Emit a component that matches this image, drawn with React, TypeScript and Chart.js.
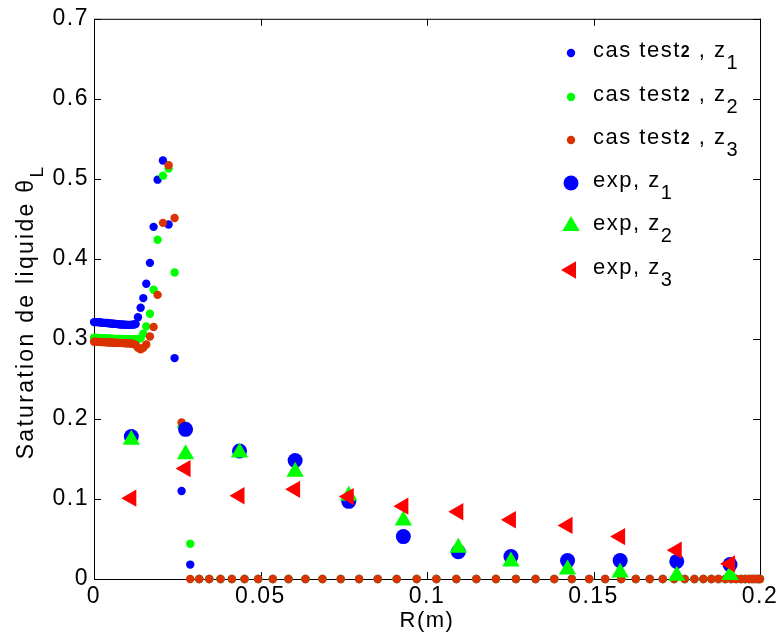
import React, { useEffect, useRef } from 'react';
import { Chart, registerables } from 'chart.js';

Chart.register(...registerables);

const FONT = '"Liberation Sans", Arial, Helvetica, sans-serif';

// ---------- data ----------
const simR = [
  0, 0.0005, 0.001, 0.0015, 0.002, 0.0025, 0.003, 0.0035, 0.004, 0.0045, 0.005, 0.0055, 0.006,
  0.0065, 0.007, 0.0075, 0.008, 0.0085, 0.009, 0.0095, 0.01, 0.0105, 0.011, 0.0115, 0.012, 0.0125,
  0.0132, 0.014, 0.0148, 0.0157, 0.0168, 0.0179, 0.0191, 0.0207, 0.0224, 0.0242, 0.0263, 0.0289,
  0.0316, 0.0346, 0.038, 0.0414, 0.0452, 0.0493, 0.0537, 0.0584, 0.0635, 0.0686, 0.0741, 0.0796,
  0.0852, 0.0909, 0.0969, 0.1028, 0.1088, 0.1148, 0.1207, 0.1267, 0.1326, 0.1382, 0.1435, 0.1487,
  0.1535, 0.1583, 0.1627, 0.1669, 0.1708, 0.1742, 0.1774, 0.1803, 0.183, 0.1854, 0.1875, 0.1896,
  0.1914, 0.1928, 0.1943, 0.1955, 0.1967, 0.1976, 0.1985, 0.1994, 0.2,
];

const simZ1 = [
  0.321, 0.321, 0.321, 0.3208, 0.3205, 0.3203, 0.32, 0.32, 0.3198, 0.3195, 0.3193, 0.319, 0.319,
  0.3188, 0.3185, 0.3183, 0.318, 0.318, 0.3178, 0.3178, 0.3176, 0.3176, 0.3176, 0.3178, 0.318, 0.3185,
  0.327, 0.339, 0.351, 0.369, 0.395, 0.44, 0.499, 0.523, 0.443, 0.276, 0.11, 0.018,
  0, 0, 0, 0, 0, 0, 0, 0, 0, 0, 0, 0,
  0, 0, 0, 0, 0, 0, 0, 0, 0, 0, 0, 0,
  0, 0, 0, 0, 0, 0, 0, 0, 0, 0, 0, 0,
  0, 0, 0, 0, 0, 0, 0, 0, 0,
];

const simZ2 = [
  0.3015, 0.3015, 0.3013, 0.3013, 0.301, 0.301, 0.3008, 0.3008, 0.3005, 0.3005, 0.3003, 0.3003, 0.3,
  0.3, 0.3, 0.2998, 0.2998, 0.2998, 0.2995, 0.2995, 0.2995, 0.2995, 0.2995, 0.2995, 0.2995, 0.2993,
  0.2995, 0.301, 0.3066, 0.3157, 0.3315, 0.3615, 0.424, 0.504, 0.513, 0.383, 0.19, 0.044,
  0, 0, 0, 0, 0, 0, 0, 0, 0, 0, 0, 0,
  0, 0, 0, 0, 0, 0, 0, 0, 0, 0, 0, 0,
  0, 0, 0, 0, 0, 0, 0, 0, 0, 0, 0, 0,
  0, 0, 0, 0, 0, 0, 0, 0, 0,
];

const simZ3 = [
  0.2965, 0.2965, 0.2963, 0.2963, 0.296, 0.296, 0.296, 0.2958, 0.2958, 0.2955, 0.2955, 0.2955, 0.2953,
  0.2953, 0.295, 0.295, 0.295, 0.2948, 0.2948, 0.2945, 0.2945, 0.2945, 0.2943, 0.294, 0.2935, 0.2925,
  0.289, 0.287, 0.289, 0.293, 0.303, 0.315, 0.355, 0.445, 0.517, 0.451, 0.1955, 0,
  0, 0, 0, 0, 0, 0, 0, 0, 0, 0, 0, 0,
  0, 0, 0, 0, 0, 0, 0, 0, 0, 0, 0, 0,
  0, 0, 0, 0, 0, 0, 0, 0, 0, 0, 0, 0,
  0, 0, 0, 0, 0, 0, 0, 0, 0,
];

const expR = [0.0112, 0.0275, 0.0437, 0.0604, 0.0765, 0.0929, 0.1094, 0.1252, 0.1422, 0.158, 0.175, 0.191];
const expZ1 = [0.178, 0.187, 0.16, 0.148, 0.097, 0.053, 0.034, 0.028, 0.023, 0.023, 0.022, 0.018];
const expZ2 = [0.174, 0.156, 0.158, 0.134, 0.104, 0.073, 0.039, 0.022, 0.012, 0.008, 0.004, 0.005];
const expZ3 = [0.101, 0.138, 0.104, 0.112, 0.103, 0.091, 0.084, 0.074, 0.067, 0.053, 0.036, 0.019];

const xTickValues = [0, 0.05, 0.1, 0.15, 0.2];
const xTickLabels = ['0', '0.05', '0.1', '0.15', '0.2'];
const yTickValues = [0, 0.1, 0.2, 0.3, 0.4, 0.5, 0.6, 0.7];
const yTickLabels = ['0', '0.1', '0.2', '0.3', '0.4', '0.5', '0.6', '0.7'];

const xTitle = 'R(m)';
const yTitle = 'Saturation de liquide θ_L';

// markup: [..] = small bold part, _x = subscript
const seriesLabels = [
  'cas test[2] , z_1',
  'cas test[2] , z_2',
  'cas test[2] , z_3',
  'exp, z_1',
  'exp, z_2',
  'exp, z_3',
];

const BLUE = 'rgb(0,0,255)';
const GREEN = 'rgb(0,255,0)';
const ORANGE = 'rgb(218,50,0)';
const RED = 'rgb(255,0,0)';

const pts = (xs: number[], ys: number[]) => xs.map((x, i) => ({ x, y: ys[i] }));

// ---------- drawing helpers ----------
function drawMarker(ctx: CanvasRenderingContext2D, style: string, r: number, rot: number, x: number, y: number, color: string) {
  ctx.save();
  ctx.fillStyle = color;
  ctx.beginPath();
  if (style === 'triangle') {
    let rad = (rot * Math.PI) / 180;
    ctx.moveTo(x + Math.sin(rad) * r, y - Math.cos(rad) * r);
    rad += (2 * Math.PI) / 3;
    ctx.lineTo(x + Math.sin(rad) * r, y - Math.cos(rad) * r);
    rad += (2 * Math.PI) / 3;
    ctx.lineTo(x + Math.sin(rad) * r, y - Math.cos(rad) * r);
    ctx.closePath();
  } else {
    ctx.arc(x, y, r, 0, Math.PI * 2);
  }
  ctx.fill();
  ctx.restore();
}

function drawRich(ctx: CanvasRenderingContext2D, text: string, x: number, y: number) {
  const re = /\[([^\]]*)\]|_(.)|([^\[_]+)/g;
  let m: RegExpExecArray | null;
  let cx = x;
  while ((m = re.exec(text))) {
    if (m[1] !== undefined) {
      ctx.font = `bold 16px ${FONT}`;
      ctx.fillText(m[1], cx, y);
      cx += ctx.measureText(m[1]).width;
    } else if (m[2] !== undefined) {
      ctx.font = `20px ${FONT}`;
      ctx.fillText(m[2], cx, y + 12);
      cx += ctx.measureText(m[2]).width;
    } else {
      ctx.font = `22px ${FONT}`;
      ctx.fillText(m[3], cx, y);
      cx += ctx.measureText(m[3]).width;
    }
  }
}

const matlabPlugin = {
  id: 'matlabFrame',
  beforeDraw(chart: any) {
    (chart.ctx as any).letterSpacing = '1.5px';
  },
  beforeDatasetsDraw(chart: any) {
    const { ctx, chartArea: a, scales } = chart;
    ctx.save();
    ctx.strokeStyle = '#000';
    ctx.lineWidth = 1;
    ctx.strokeRect(a.left + 0.5, a.top + 0.5, a.right - a.left, a.bottom - a.top);
    const tl = 7;
    ctx.beginPath();
    xTickValues.forEach((v) => {
      const px = Math.round(scales.x.getPixelForValue(v)) + 0.5;
      ctx.moveTo(px, a.bottom);
      ctx.lineTo(px, a.bottom - tl);
      ctx.moveTo(px, a.top);
      ctx.lineTo(px, a.top + tl);
    });
    yTickValues.forEach((v) => {
      const py = Math.round(scales.y.getPixelForValue(v)) + 0.5;
      ctx.moveTo(a.left, py);
      ctx.lineTo(a.left + tl, py);
      ctx.moveTo(a.right, py);
      ctx.lineTo(a.right - tl, py);
    });
    ctx.stroke();
    ctx.restore();
  },
  afterDraw(chart: any) {
    const { ctx } = chart;
    ctx.save();
    (ctx as any).letterSpacing = '1.5px';
    ctx.fillStyle = '#000';
    ctx.textBaseline = 'alphabetic';
    ctx.textAlign = 'left';
    // legend
    const rowY = [53, 97, 140, 183, 226, 270];
    chart.data.datasets.forEach((ds: any, i: number) => {
      const y = rowY[i];
      drawMarker(ctx, ds.pointStyle, ds.pointRadius, ds.pointRotation || 0, 571, y, ds.backgroundColor);
      ctx.fillStyle = '#000';
      drawRich(ctx, seriesLabels[i], 593, y + 4);
    });
    // y axis title (rotated)
    (ctx as any).letterSpacing = '2.3px';
    const [main, sub] = yTitle.split('_');
    ctx.font = `23px ${FONT}`;
    const wMain = ctx.measureText(main).width;
    ctx.font = `19px ${FONT}`;
    const wSub = ctx.measureText(sub).width;
    const total = wMain + wSub;
    ctx.translate(33, 312 + total / 2);
    ctx.rotate(-Math.PI / 2);
    ctx.font = `23px ${FONT}`;
    ctx.fillText(main, 0, 0);
    ctx.font = `19px ${FONT}`;
    ctx.fillText(sub, wMain, 10);
    ctx.restore();
    (ctx as any).letterSpacing = '0px';
  },
};

export default function App() {
  const ref = useRef<HTMLCanvasElement>(null);
  useEffect(() => {
    if (!ref.current) return;
    const mk = (label: string, xs: number[], ys: number[], color: string, style: string, r: number, order: number, rot = 0) => ({
      label,
      data: pts(xs, ys),
      backgroundColor: color,
      borderColor: color,
      pointStyle: style,
      pointRadius: r,
      pointRotation: rot,
      pointBorderWidth: 0,
      borderWidth: 0,
      showLine: false,
      clip: false as any,
      order,
    });
    const chart = new Chart(ref.current, {
      type: 'scatter',
      data: {
        datasets: [
          mk('cas test2 , z1', simR, simZ1, BLUE, 'circle', 4.2, 6),
          mk('cas test2 , z2', simR, simZ2, GREEN, 'circle', 4.2, 5),
          mk('cas test2 , z3', simR, simZ3, ORANGE, 'circle', 4.2, 4),
          mk('exp, z1', expR, expZ1, BLUE, 'circle', 7.5, 3),
          mk('exp, z2', expR, expZ2, GREEN, 'triangle', 10, 2),
          mk('exp, z3', expR, expZ3, RED, 'triangle', 10, 1, -90),
        ] as any,
      },
      options: {
        responsive: false,
        animation: false,
        events: [],
        layout: { padding: { left: 0, right: 16, top: 18, bottom: 0 } },
        plugins: { legend: { display: false }, tooltip: { enabled: false } },
        scales: {
          x: {
            type: 'linear',
            min: 0,
            max: 0.2,
            afterBuildTicks: (s: any) => {
              s.ticks = xTickValues.map((v) => ({ value: v }));
            },
            afterFit: (s: any) => {
              s.height = 60;
            },
            grid: { display: false, drawTicks: false },
            border: { display: false },
            ticks: {
              padding: 4,
              color: '#000',
              font: { family: FONT, size: 23 },
              maxRotation: 0,
              autoSkip: false,
              callback: (v: any) => xTickLabels[xTickValues.indexOf(Number(v))] ?? '',
            },
            title: {
              display: true,
              text: xTitle,
              color: '#000',
              font: { family: FONT, size: 22 },
              padding: { top: 0, bottom: 5 },
            },
          },
          y: {
            type: 'linear',
            min: 0,
            max: 0.7,
            afterBuildTicks: (s: any) => {
              s.ticks = yTickValues.map((v) => ({ value: v }));
            },
            afterFit: (s: any) => {
              s.width = 94;
            },
            grid: { display: false, drawTicks: false },
            border: { display: false },
            ticks: {
              padding: 5,
              color: '#000',
              font: { family: FONT, size: 23 },
              autoSkip: false,
              callback: (v: any) => {
                const i = yTickValues.findIndex((t) => Math.abs(t - Number(v)) < 1e-9);
                return i >= 0 ? yTickLabels[i] : '';
              },
            },
            title: { display: false },
          },
        },
      },
      plugins: [matlabPlugin as any],
    });
    return () => chart.destroy();
  }, []);
  return (
    <div style={{ position: 'absolute', left: 0, top: 0, width: 780, height: 639, background: '#fff' }}>
      <canvas ref={ref} width={780} height={639} style={{ display: 'block' }} />
    </div>
  );
}
